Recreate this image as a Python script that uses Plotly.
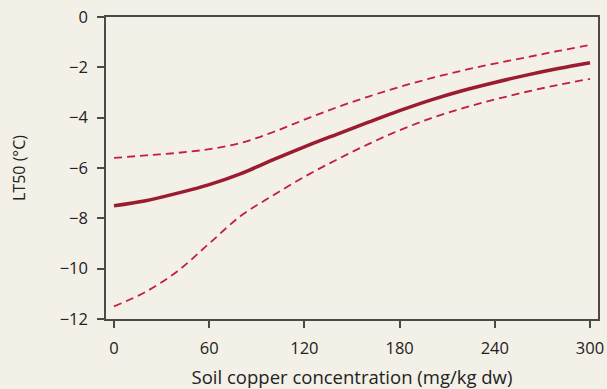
import plotly.graph_objects as go

# Soil copper concentration (mg/kg dw)
copper = [0, 20, 40, 60, 80, 100, 120, 140, 160, 180, 200, 220, 240, 260, 280, 300]

# LT50 (°C): fitted curve and its confidence band
lt50_fit = [-7.50, -7.30, -7.00, -6.66, -6.22, -5.68, -5.16, -4.67, -4.19,
            -3.72, -3.29, -2.92, -2.60, -2.31, -2.05, -1.82]
lt50_upper = [-5.60, -5.50, -5.40, -5.25, -5.00, -4.58, -4.08, -3.60, -3.17,
              -2.78, -2.43, -2.12, -1.85, -1.60, -1.35, -1.11]
lt50_lower = [-11.50, -10.92, -10.10, -9.00, -7.90, -7.10, -6.35, -5.68, -5.06,
              -4.50, -4.02, -3.62, -3.28, -2.97, -2.70, -2.46]

x_ticks = [0, 60, 120, 180, 240, 300]
y_ticks = [0, -2, -4, -6, -8, -10, -12]

BG = "#F3F0E7"
FIT_COLOR = "#9B1B30"
BAND_COLOR = "#C41E3A"
AXIS_COLOR = "#4a4a4a"
TEXT_COLOR = "#222222"
FONT = "Open Sans"

fig = go.Figure()
for band in (lt50_upper, lt50_lower):
    fig.add_trace(go.Scatter(
        x=copper, y=band, mode="lines",
        line=dict(color=BAND_COLOR, width=1.8, dash="8px,5px", shape="spline"),
        hoverinfo="skip", showlegend=False,
    ))
fig.add_trace(go.Scatter(
    x=copper, y=lt50_fit, mode="lines",
    line=dict(color=FIT_COLOR, width=3.5, shape="spline"),
    showlegend=False,
))

axis_common = dict(
    showgrid=False, zeroline=False, automargin=False,
    showline=True, linecolor=AXIS_COLOR, linewidth=1.5, mirror=True,
    ticks="outside", ticklen=7, tickwidth=1.5, tickcolor=AXIS_COLOR,
    tickfont=dict(family=FONT, size=16.5, color=TEXT_COLOR),
)

fig.update_xaxes(
    range=[-5.04, 305.04], tickvals=x_ticks, ticklabelstandoff=6,
    title=dict(text="Soil copper concentration (mg/kg dw)",
               font=dict(family=FONT, size=18.5, color=TEXT_COLOR), standoff=14),
    **axis_common,
)
fig.update_yaxes(
    range=[-12, 0], tickvals=y_ticks, ticklabelstandoff=6,
    title=dict(text="LT50 (°C)",
               font=dict(family=FONT, size=16, color=TEXT_COLOR), standoff=30),
    **axis_common,
)

fig.update_layout(
    width=607, height=389,
    margin=dict(l=106, r=9, t=17, b=70),
    paper_bgcolor=BG, plot_bgcolor=BG,
    font=dict(family=FONT),
)

fig.write_html("out.html")
